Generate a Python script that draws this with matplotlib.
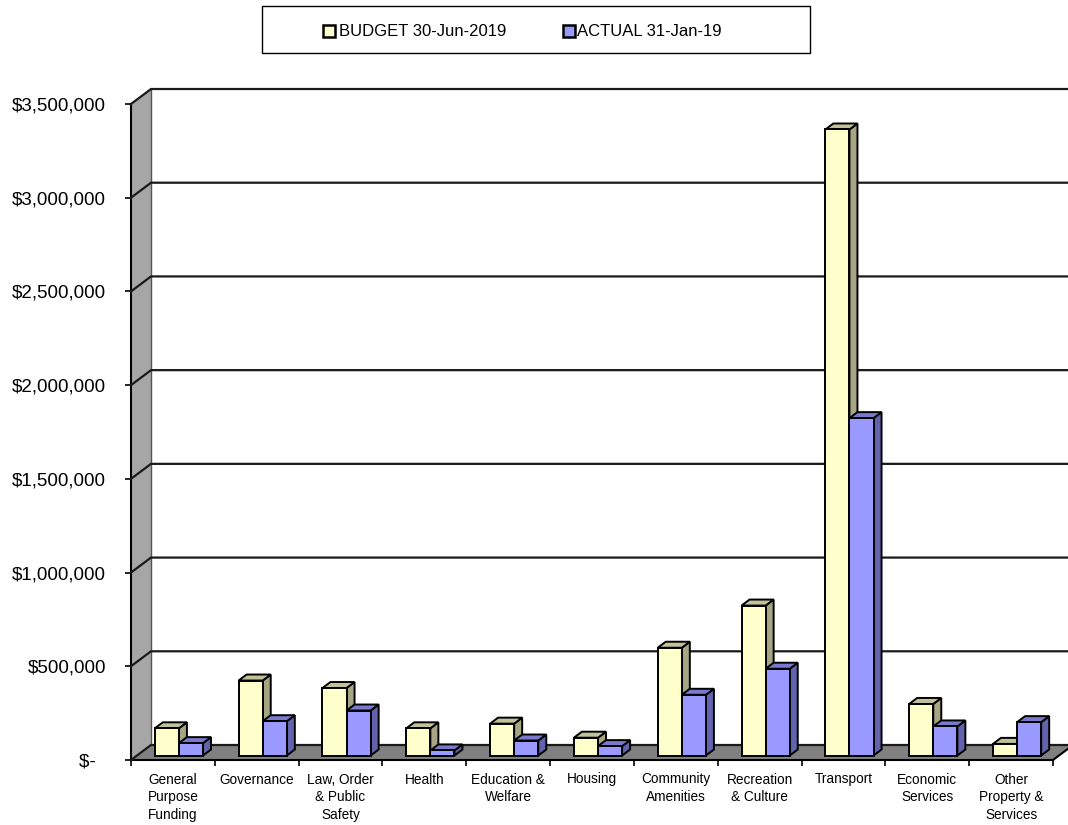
import matplotlib

matplotlib.use("Agg")
import matplotlib.pyplot as plt
from matplotlib.patches import Polygon, Rectangle

plt.rcParams["font.family"] = ["Liberation Sans", "DejaVu Sans"]

categories = [
    "General\nPurpose\nFunding",
    "Governance",
    "Law, Order\n& Public\nSafety",
    "Health",
    "Education &\nWelfare",
    "Housing",
    "Community\nAmenities",
    "Recreation\n& Culture",
    "Transport",
    "Economic\nServices",
    "Other\nProperty &\nServices",
]
budget = [145000, 400000, 360000, 145000, 170000, 95000, 575000, 800000, 3340000, 275000, 62000]
actual = [66000, 183000, 240000, 27000, 80000, 50000, 324000, 463000, 1800000, 155000, 178000]
series_names = ["BUDGET 30-Jun-2019", "ACTUAL 31-Jan-19"]
y_ticks = [0, 500000, 1000000, 1500000, 2000000, 2500000, 3000000, 3500000]

W, H = 1068, 825
fig = plt.figure(figsize=(W / 100, H / 100), dpi=100)
ax = fig.add_axes([131 / W, (H - 760) / H, 922 / W, 656 / H])
n = len(categories)
ymax = 3500000
ax.set_xlim(0, n)
ax.set_ylim(0, ymax)
for s in ax.spines.values():
    s.set_visible(False)

# oblique depth of the "3D" box, in data units (20 px right, 15 px up)
DX = 20 / (922 / n)
DY = 15 / (656 / ymax)

grid_c = "#1a1a1a"
# left wall
ax.add_patch(Polygon([(0, 0), (DX, DY), (DX, ymax + DY), (0, ymax)], closed=True,
                     facecolor="#a6a6a6", edgecolor="none", clip_on=False, zorder=1))
# floor
ax.add_patch(Polygon([(0, 0), (n, 0), (n + DX, DY), (DX, DY)], closed=True,
                     facecolor="#808080", edgecolor="none", clip_on=False, zorder=1))
ax.plot([DX, DX], [DY, ymax + DY], color="#555555", lw=1.0, clip_on=False, zorder=2)
ax.plot([0, 0], [0, ymax], color="black", lw=1.5, clip_on=False, zorder=2)
ax.plot([0, n], [0, 0], color="black", lw=1.5, clip_on=False, zorder=2)
ax.plot([n, n + DX], [0, DY], color="black", lw=1.5, clip_on=False, zorder=2)

for t in y_ticks:
    ax.plot([0, DX, n + DX + 1], [t, t + DY, t + DY], color=grid_c, lw=1.6,
            clip_on=False, zorder=2, solid_joinstyle="miter")

# bars
bar_w = 0.2875
front_d, side_d = 0.3, 0.4
faces = [
    ("#ffffcc", "#a6a684", "#c2c29a"),
    ("#9999ff", "#6363ad", "#7a7acc"),
]
for i in range(n):
    for s, vals in enumerate([budget, actual]):
        v = vals[i]
        x0 = i + 0.2125 + s * bar_w + front_d * DX
        x1 = x0 + bar_w
        y0 = front_d * DY
        y1 = y0 + v
        ox, oy = side_d * DX, side_d * DY
        front, side, top = faces[s]
        kw = dict(closed=True, edgecolor="black", lw=1.4, clip_on=False, zorder=3,
                  joinstyle="miter")
        ax.add_patch(Polygon([(x1, y0), (x1 + ox, y0 + oy), (x1 + ox, y1 + oy), (x1, y1)],
                             facecolor=side, **kw))
        ax.add_patch(Polygon([(x0, y1), (x1, y1), (x1 + ox, y1 + oy), (x0 + ox, y1 + oy)],
                             facecolor=top, **kw))
        ax.add_patch(Polygon([(x0, y0), (x1, y0), (x1, y1), (x0, y1)],
                             facecolor=front, **kw))

# axes ticks
ax.set_yticks(y_ticks)
ax.set_yticklabels(["$-  "] + [f"${t:,.0f}" for t in y_ticks[1:]], fontsize=13.5)
ax.tick_params(axis="y", length=4.5, width=1.2, pad=13.5, color="black")
ax.set_xticks([i + 0.5 for i in range(n)])
ax.set_xticklabels(categories, fontsize=9.8, linespacing=1.36)
ax.set_xticks(range(n + 1), minor=True)
ax.tick_params(axis="x", which="major", length=0, pad=9)
ax.tick_params(axis="x", which="minor", length=4.5, width=1.2, color="black")


# legend box drawn in figure pixels
def px(x, y):
    return x / W, 1 - y / H


fig.add_artist(Rectangle(px(262, 53), 548 / W, 47 / H, transform=fig.transFigure,
                         facecolor="white", edgecolor="black", lw=1.0))
for (mx, tx), name, (front, _, _) in zip([(323, 339), (563, 577)], series_names, faces):
    fig.add_artist(Rectangle(px(mx, 37), 12 / W, 12 / H, transform=fig.transFigure,
                             facecolor=front, edgecolor="black", lw=1.8))
    fig.text(*px(tx, 31), name, fontsize=12, ha="left", va="center")

fig.savefig("out.png", dpi=100, facecolor="white")
